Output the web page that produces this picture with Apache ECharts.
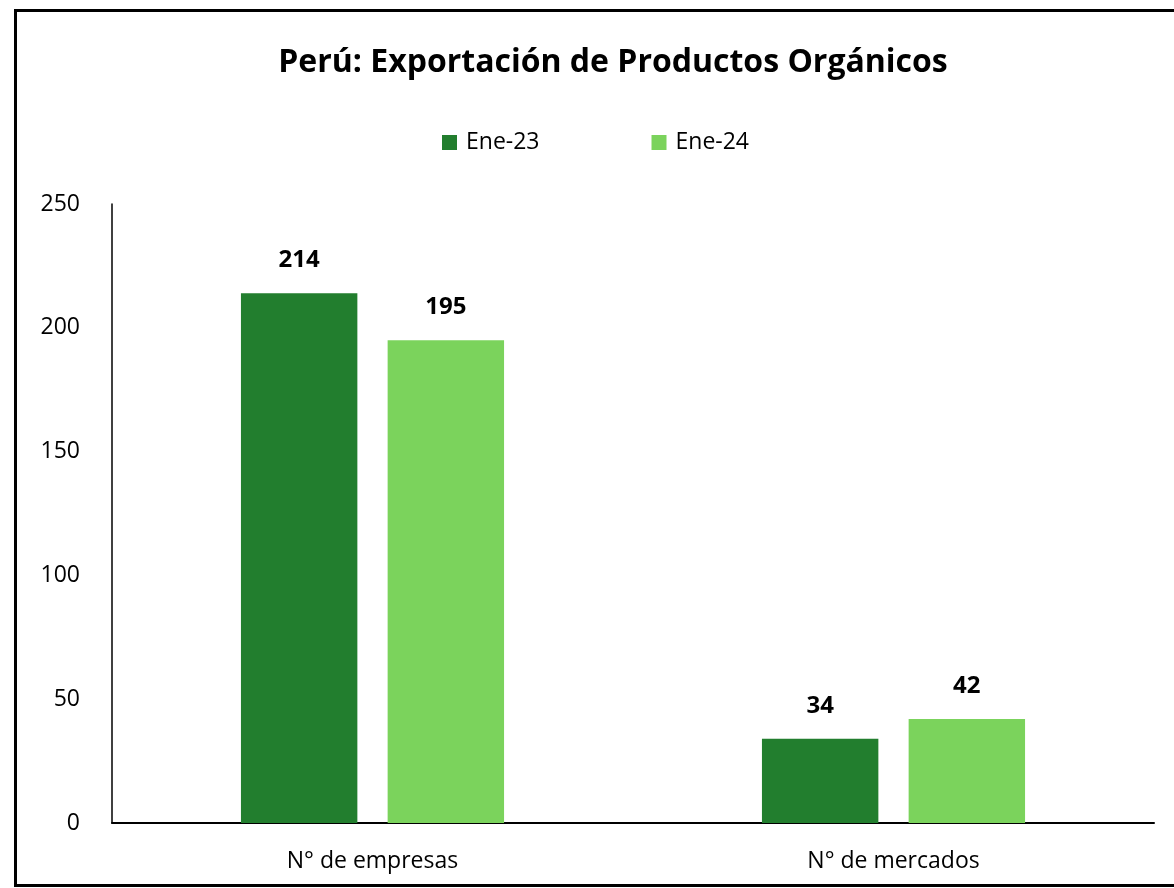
<!DOCTYPE html>
<html><head><meta charset="utf-8">
<script src="https://cdn.jsdelivr.net/npm/echarts@6/dist/echarts.min.js"></script>
<style>html,body{margin:0;padding:0;background:#fff}#c{width:1174px;height:888px}</style>
</head><body><div id="c"></div>
<script>
const categories = ['N° de empresas', 'N° de mercados'];
const seriesNames = ['Ene-23', 'Ene-24'];
const ene23 = [214, 34];
const ene24 = [195, 42];
const yTicks = [0, 50, 100, 150, 200, 250];

const font = '"Open Sans", sans-serif';
const chart = echarts.init(document.getElementById('c'));
chart.setOption({
  animation: false,
  backgroundColor: '#fff',
  title: {
    text: 'Perú: Exportación de Productos Orgánicos',
    left: 608, textAlign: 'center', top: 42,
    textStyle: {fontFamily: font, fontWeight: 'bold', fontSize: 32, color: '#000'}
  },
  legend: {
    data: seriesNames, top: 126, left: 437, itemGap: 112,
    itemWidth: 15, itemHeight: 15, icon: 'rect',
    textStyle: {fontFamily: font, fontSize: 23, color: '#000', padding: [0, 0, 0, 4]}
  },
  graphic: [{
    type: 'rect', shape: {x: 15.5, y: 10.5, width: 1200, height: 875},
    style: {fill: 'none', stroke: '#000', lineWidth: 3}, silent: true
  }],
  grid: {left: 112, right: 20, top: 204, bottom: 65},
  xAxis: {
    type: 'category', data: categories,
    axisLine: {lineStyle: {color: '#000', width: 2}},
    axisTick: {show: false},
    axisLabel: {fontFamily: font, fontSize: 23, color: '#000', margin: 27}
  },
  yAxis: {
    type: 'value', min: 0, max: 250, interval: 50,
    axisLine: {show: true, lineStyle: {color: '#000', width: 1.5}},
    axisTick: {show: false},
    splitLine: {show: false},
    axisLabel: {fontFamily: font, fontSize: 23, color: '#000', margin: 32,
      formatter: v => yTicks.includes(v) ? String(v) : ''}
  },
  series: [
    {name: seriesNames[0], type: 'bar', data: ene23, barGap: '26%', barCategoryGap: '49.5%',
     itemStyle: {color: '#227E2E'},
     label: {show: true, position: 'top', distance: 21, fontFamily: font, fontWeight: 'bold', fontSize: 24, color: '#000'}},
    {name: seriesNames[1], type: 'bar', data: ene24, barGap: '26%', barCategoryGap: '49.5%',
     itemStyle: {color: '#7BD35C'},
     label: {show: true, position: 'top', distance: 21, fontFamily: font, fontWeight: 'bold', fontSize: 24, color: '#000'}}
  ]
});
</script></body></html>
